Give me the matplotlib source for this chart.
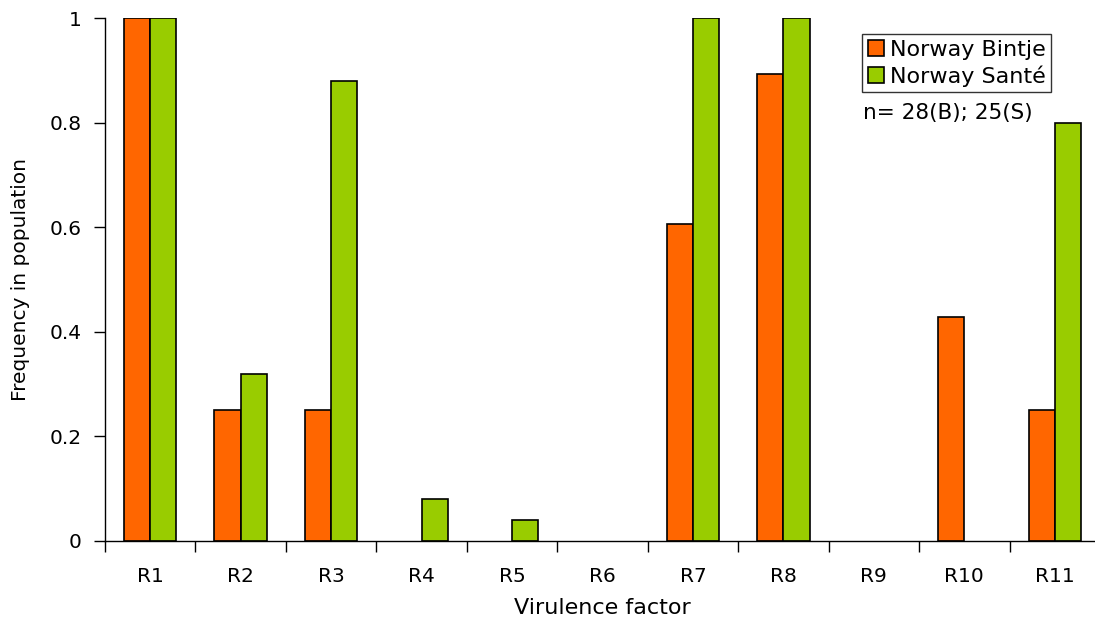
import numpy as np
import matplotlib.pyplot as plt

categories = ['R1', 'R2', 'R3', 'R4', 'R5', 'R6', 'R7', 'R8', 'R9', 'R10', 'R11']
bintje = [1.0, 0.25, 0.25, 0.0, 0.0, 0.0, 0.607, 0.893, 0.0, 0.429, 0.25]
sante = [1.0, 0.32, 0.88, 0.08, 0.04, 0.0, 1.0, 1.0, 0.0, 0.0, 0.8]
yticks = [0, 0.2, 0.4, 0.6, 0.8, 1]
ytick_labels = ['0', '0.2', '0.4', '0.6', '0.8', '1']


def main():
    fig = plt.figure(figsize=(10.95, 6.23), dpi=100)
    ax = fig.add_axes([105 / 1095, 1 - 541 / 623, (1100 - 105) / 1095, (541 - 18) / 623])

    x = np.arange(len(categories))
    w = 0.29
    b1 = ax.bar(x - w / 2, bintje, w, color='#FF6600', edgecolor='black', linewidth=1.2,
                label='Norway Bintje')
    b2 = ax.bar(x + w / 2, sante, w, color='#99CC00', edgecolor='black', linewidth=1.2,
                label='Norway Santé')
    # empty bars are not drawn in the original
    for bars, vals in ((b1, bintje), (b2, sante)):
        for r, v in zip(bars, vals):
            if v == 0:
                r.set_visible(False)

    ax.set_xlim(-0.5, len(categories) - 0.5)
    ax.set_ylim(0, 1)
    ax.set_yticks(yticks)
    ax.set_yticklabels(ytick_labels)
    ax.set_xticks(x)
    ax.set_xticklabels(categories)
    ax.set_xticks(np.arange(len(categories) + 1) - 0.5, minor=True)
    ax.tick_params(axis='x', which='major', length=0, pad=19, labelsize=14.5)
    ax.tick_params(axis='x', which='minor', length=8, width=1, direction='out')
    ax.tick_params(axis='y', length=8, width=1, direction='out', labelsize=14.5, pad=9)

    for s in ['top', 'right']:
        ax.spines[s].set_visible(False)
    ax.spines['left'].set_linewidth(1)
    ax.spines['bottom'].set_linewidth(1)

    ax.set_xlabel('Virulence factor', fontsize=16, labelpad=8)
    ax.set_ylabel('Frequency in population', fontsize=14.5, labelpad=14)

    leg = ax.legend(loc='upper left', bbox_to_anchor=(862 / 1095, 1 - 34 / 623),
                    bbox_transform=fig.transFigure, fontsize=16, frameon=True,
                    fancybox=False, edgecolor='black', handlelength=0.75,
                    handleheight=0.75, handletextpad=0.25, borderpad=0.25,
                    labelspacing=0.25, borderaxespad=0)
    leg.get_frame().set_linewidth(1)
    fig.text(863 / 1095, 1 - 113 / 623, 'n= 28(B); 25(S)', fontsize=15.5,
             va='center', ha='left')

    fig.savefig('out.png', dpi=100)


if __name__ == '__main__':
    main()
